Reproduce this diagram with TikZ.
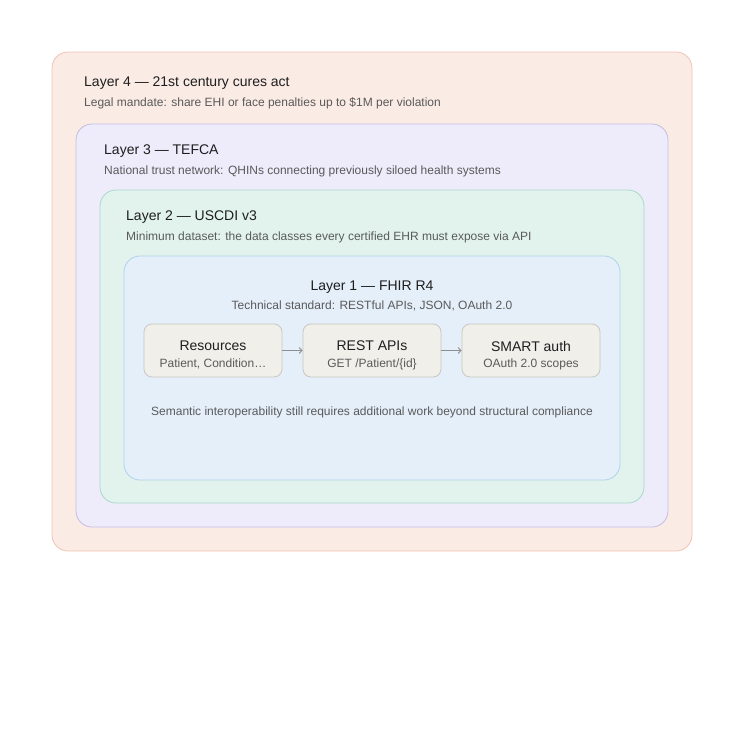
\documentclass[tikz,border=0pt]{standalone}
\usepackage{fontspec}
\setmainfont{Liberation Sans}
\usetikzlibrary{arrows.meta,positioning}

\definecolor{lfourfill}{HTML}{FAEBE5}
\definecolor{lfourline}{HTML}{F0C2B2}
\definecolor{lthreefill}{HTML}{EEECFB}
\definecolor{lthreeline}{HTML}{C4BCE2}
\definecolor{ltwofill}{HTML}{E1F3EC}
\definecolor{ltwoline}{HTML}{A9D9C9}
\definecolor{lonefill}{HTML}{E5EFFA}
\definecolor{loneline}{HTML}{AFD3EA}
\definecolor{boxfill}{HTML}{F1EFEA}
\definecolor{boxline}{HTML}{C9C7C1}
\definecolor{titlecol}{HTML}{1E1E1E}
\definecolor{subcol}{HTML}{5A5A5A}
\definecolor{arrowcol}{HTML}{8E8E8E}

\begin{document}
\begin{tikzpicture}[x=1pt,y=-1pt,
  layer/.style={rounded corners=16pt,line width=0.8pt,inner sep=0pt},
  ltitle/.style={anchor=west,inner sep=0pt,text=titlecol,font=\fontsize{14}{16}\selectfont},
  lsub/.style={anchor=west,inner sep=0pt,text=subcol,font=\fontsize{12}{14}\selectfont},
  box/.style={draw=boxline,fill=boxfill,rounded corners=8pt,line width=0.8pt,
    minimum width=138pt,minimum height=53pt,inner sep=0pt},
  btitle/.style={inner sep=0pt,text=titlecol,font=\fontsize{14}{16}\selectfont},
  bsub/.style={inner sep=0pt,text=subcol,font=\fontsize{12}{14}\selectfont},
  flow/.style={draw=arrowcol,line width=0.8pt,-{Straight Barb[length=3pt,width=6pt]}}]

  \useasboundingbox (0,0) rectangle (744,744);

  % Nested layers
  \node[layer,draw=lfourline,fill=lfourfill,minimum width=640pt,minimum height=499pt] (L4) at (372,301.5) {};
  \node[layer,draw=lthreeline,fill=lthreefill,minimum width=592pt,minimum height=403pt] (L3) at (372,325.5) {};
  \node[layer,draw=ltwoline,fill=ltwofill,minimum width=544pt,minimum height=313pt] (L2) at (372,346.5) {};
  \node[layer,draw=loneline,fill=lonefill,minimum width=496pt,minimum height=224pt] (L1) at (372,368) {};

  % Layer texts
  \node[ltitle] (t4) at (84,83.5) {Layer 4 — 21st century cures act};
  \node[lsub] (s4) at (84,103) {Legal mandate: share EHI or face penalties up to \$1M per violation};
  \node[ltitle] (t3) at (104,151.5) {Layer 3 — TEFCA};
  \node[lsub] (s3) at (104,171) {National trust network: QHINs connecting previously siloed health systems};
  \node[ltitle] (t2) at (126,217.5) {Layer 2 — USCDI v3};
  \node[lsub] (s2) at (126,237) {Minimum dataset: the data classes every certified EHR must expose via API};
  \node[ltitle,anchor=center] (t1) at (372,287.5) {Layer 1 — FHIR R4};
  \node[lsub,anchor=center] (s1) at (372,306) {Technical standard: RESTful APIs, JSON, OAuth 2.0};

  % FHIR building blocks
  \foreach \n/\x/\a/\b in {res/213/Resources/{Patient, Condition…},
                           api/372/REST APIs/{GET /Patient/\{id\}},
                           auth/531/SMART auth/{OAuth 2.0 scopes}} {
    \node[box] (\n) at (\x,350.5) {};
    \node[btitle] (\n t) at (\x,346) {\a};
    \node[bsub] (\n s) at (\x,364) {\b};
  }

  % Flow
  \draw[flow] (res) -- (api);
  \draw[flow] (api) -- (auth);

  \node[lsub,anchor=center] (note) at (372,412) {Semantic interoperability still requires additional work beyond structural compliance};
\end{tikzpicture}
\end{document}
